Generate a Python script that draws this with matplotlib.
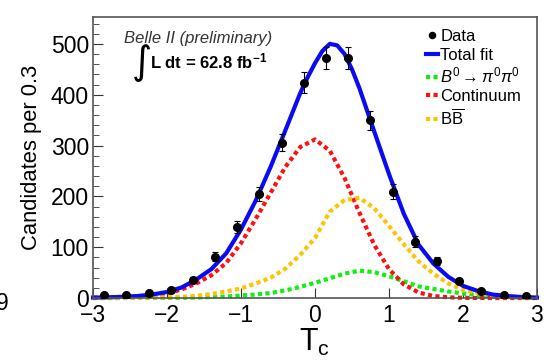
import numpy as np
import matplotlib.pyplot as plt

plt.rcParams['font.family'] = ['Liberation Sans', 'DejaVu Sans']
plt.rcParams['mathtext.fontset'] = 'custom'
plt.rcParams['mathtext.rm'] = 'Liberation Sans'
plt.rcParams['mathtext.it'] = 'Liberation Sans:italic'
plt.rcParams['mathtext.bf'] = 'Liberation Sans:bold'

# data points (bin centres, counts per 0.3, errors)
tc_bins = [-2.85, -2.55, -2.25, -1.95, -1.65, -1.35, -1.05, -0.75, -0.45, -0.15,
           0.15, 0.45, 0.75, 1.05, 1.35, 1.65, 1.95, 2.25, 2.55, 2.85]
counts = [6, 6, 10, 16, 35, 81, 140, 205, 306, 424,
          473, 473, 350, 209, 111, 73, 34, 14, 7, 5]
count_err = [2.5, 2.5, 3.2, 4, 6, 9, 12, 14.3, 17.5, 20.6,
             21.7, 21.7, 18.7, 14.5, 10.5, 8.5, 5.8, 3.7, 2.6, 2.2]

# fit components
tc_curve = [-3.0, -2.8, -2.6, -2.4, -2.2, -2.0, -1.8, -1.6, -1.4, -1.2, -1.0,
            -0.8, -0.6, -0.4, -0.2, 0.0, 0.2, 0.4, 0.6, 0.8, 1.0,
            1.2, 1.4, 1.6, 1.8, 2.0, 2.2, 2.4, 2.6, 2.8, 3.0]
signal = [0, 0, 0.1, 0.2, 0.3, 0.5, 0.7, 1, 2, 3, 5,
          7, 10, 15, 22, 30, 39, 48, 54, 51, 43,
          33, 23, 18, 13, 9, 6, 3, 2, 1, 0.5]
continuum = [0.5, 1, 1.5, 3, 5, 9, 17, 29, 45, 69, 108,
             156, 207, 258, 297, 312, 290, 236, 168, 105, 57,
             27, 11, 4, 1.5, 0.5, 0.2, 0.1, 0.1, 0.1, 0.1]
bbbar = [0.2, 0.3, 0.5, 0.7, 1, 1.5, 2.5, 4.5, 8, 13, 19,
         29, 40, 58, 85, 118, 170, 193, 197, 177, 142,
         106, 72, 48, 29, 16, 10, 5, 3, 1.5, 1]

# total fit, read a bit more finely around the peak
tc_total = [-3.0, -2.8, -2.6, -2.4, -2.2, -2.0, -1.8, -1.6, -1.4, -1.2, -1.0,
            -0.8, -0.6, -0.4, -0.2, -0.1, 0.0, 0.1, 0.2, 0.3, 0.4, 0.5, 0.6,
            0.8, 1.0, 1.2, 1.4, 1.6, 1.8, 2.0, 2.2, 2.4, 2.6, 2.8, 3.0]
total_fit = [1, 1.5, 2.5, 4, 7, 12, 21, 37, 57, 88, 135,
             192, 258, 330, 403, 434, 462, 486, 500, 497, 480, 450, 413,
             328, 244, 166, 105, 68, 42, 24, 14, 7, 4, 2, 1]

fig = plt.figure(figsize=(5.57, 3.6), dpi=100)
ax = fig.add_axes([0.167, 0.172, 0.797, 0.781])

dots = (0, (1, 0.8))
ax.plot(tc_curve, signal, color='#11ee11', lw=3, ls=dots, clip_on=False,
        label=r'$B^0 \rightarrow \pi^0\pi^0$')
ax.plot(tc_curve, continuum, color='#ff1010', lw=3, ls=dots, clip_on=False,
        label='Continuum')
ax.plot(tc_curve, bbbar, color='#ffc400', lw=3, ls=dots, clip_on=False,
        label=r'$\mathrm{B\overline{B}}$')
ax.plot(tc_total, total_fit, color='#0a0af5', lw=3, clip_on=False,
        solid_joinstyle='round', label='Total fit')
ax.errorbar(tc_bins, counts, yerr=count_err, fmt='none', ecolor='black',
            elinewidth=0.8, capsize=2, capthick=0.8, zorder=5)
ax.plot(tc_bins, counts, 'o', color='black', ms=5.5, zorder=6, label='Data')

ax.set_xlim(-3, 3)
ax.set_ylim(0, 553)
ax.set_xticks([-3, -2, -1, 0, 1, 2, 3])
ax.set_xticklabels(['\u22123', '\u22122', '\u22121', '0', '1', '2', '3'])
ax.set_yticks([0, 100, 200, 300, 400, 500])
ax.set_yticks(np.arange(0, 553, 20), minor=True)
ax.tick_params(axis='both', which='both', direction='in', labelsize=16.5, color='#333333')
ax.tick_params(axis='y', which='major', length=7, pad=3)
ax.tick_params(axis='y', which='minor', length=4)
ax.tick_params(axis='x', which='major', length=7, pad=4)
for s in ax.spines.values():
    s.set_color('#555555')
    s.set_linewidth(1.2)

ax.set_ylabel('Candidates per 0.3', fontsize=15.8, labelpad=6)
ax.set_xlabel(r'T$_\mathregular{c}$', fontsize=22, labelpad=0)

h, l = ax.get_legend_handles_labels()
order = [4, 3, 0, 1, 2]
ax.legend([h[i] for i in order], [l[i] for i in order], loc='upper left',
          bbox_to_anchor=(0.735, 0.98), frameon=False, fontsize=12,
          handlelength=0.7, handletextpad=0.15, labelspacing=0.2,
          borderaxespad=0, markerscale=0.8)

ax.text(0.07, 0.925, 'Belle II (preliminary)', transform=ax.transAxes,
        fontsize=12, style='italic', color='#333333', va='center')
ax.text(0.088, 0.835, '\u222b', transform=ax.transAxes, fontsize=28,
        family='DejaVu Sans', va='center')
ax.text(0.128, 0.84, r'L dt = 62.8 fb$^{\mathbf{-1}}$', transform=ax.transAxes,
        fontsize=12, weight='bold', va='center')

fig.text(-0.008, 0.158, '9', fontsize=16.5, va='center', ha='left')

fig.savefig('out.png', dpi=100)
